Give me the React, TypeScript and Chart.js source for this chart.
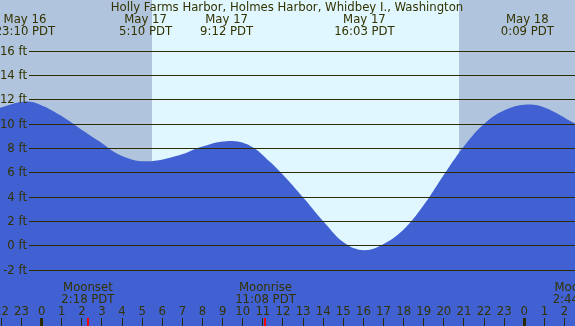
import React, { useEffect, useRef } from "react";
import { Chart, registerables } from "chart.js";

Chart.register(...registerables);

const TITLE = "Holly Farms Harbor, Holmes Harbor, Whidbey I., Washington";

// Tide curve (hours relative to midnight May 17, feet)
const tideHours = [-2.07, -0.83, -0.08, 0.91, 1.9, 2.9, 3.89, 5.17, 6.88, 7.87, 9.2, 10.36, 11.35, 12.1, 13.09, 14.09, 15.08, 16.05, 17.07, 18.06, 19.06, 20.05, 21.05, 22.04, 23.04, 24.15, 25.03, 26.52];
const tideFeet = [11.3, 11.8, 11.55, 10.7, 9.6, 8.5, 7.41, 6.89, 7.41, 8.04, 8.55, 8.18, 6.85, 5.6, 3.75, 1.8, 0.15, -0.41, 0.16, 1.39, 3.44, 5.91, 8.23, 10.02, 11.11, 11.56, 11.3, 10.0];

// Extreme labels
const extremeHours = [-0.83, 5.17, 9.2, 16.05, 24.15];
const extremeDates = ["May 16", "May 17", "May 17", "May 17", "May 18"];
const extremeTimes = ["23:10 PDT", "5:10 PDT", "9:12 PDT", "16:03 PDT", "0:09 PDT"];

// Moon events
const moonHours = [2.3, 11.13, 26.73];
const moonNames = ["Moonset", "Moonrise", "Moonset"];
const moonTimes = ["2:18 PDT", "11:08 PDT", "2:44 PDT"];

// Night periods (hours)
const nightStart = [-3, 20.75];
const nightEnd = [5.47, 28];

// Hour ticks
const tickHours = [-2, -1, 0, 1, 2, 3, 4, 5, 6, 7, 8, 9, 10, 11, 12, 13, 14, 15, 16, 17, 18, 19, 20, 21, 22, 23, 24, 25, 26];
const tickLabels = ["22", "23", "0", "1", "2", "3", "4", "5", "6", "7", "8", "9", "10", "11", "12", "13", "14", "15", "16", "17", "18", "19", "20", "21", "22", "23", "0", "1", "2"];

// Y gridlines
const gridFeet = [-2, 0, 2, 4, 6, 8, 10, 12, 14, 16];
const gridLabels = ["-2 ft", "0 ft", "2 ft", "4 ft", "6 ft", "8 ft", "10 ft", "12 ft", "14 ft", "16 ft"];

const X_MIN = -2.07;
const X_MAX = 26.52;
const Y_MIN = -6.64;
const Y_MAX = 20.15;

const TEXT = "#333300";
const FONT = "11.7px 'DejaVu Sans'";

const bgPlugin = {
  id: "bg",
  beforeDraw(chart: any) {
    const { ctx, chartArea, scales } = chart;
    const x = scales.x;
    ctx.save();
    ctx.fillStyle = "#e0f7ff";
    ctx.fillRect(chartArea.left, chartArea.top, chartArea.right - chartArea.left, chartArea.bottom - chartArea.top);
    ctx.fillStyle = "#b0c4de";
    for (let i = 0; i < nightStart.length; i++) {
      const a = Math.max(chartArea.left, x.getPixelForValue(nightStart[i]));
      const b = Math.min(chartArea.right, x.getPixelForValue(nightEnd[i]));
      ctx.fillRect(Math.round(a), chartArea.top, Math.round(b) - Math.round(a), chartArea.bottom - chartArea.top);
    }
    ctx.restore();
  },
};

const overlayPlugin = {
  id: "overlay",
  afterDatasetsDraw(chart: any) {
    const { ctx, chartArea, scales } = chart;
    const x = scales.x;
    const y = scales.y;
    ctx.save();
    ctx.strokeStyle = "#2b2b00";
    ctx.lineWidth = 1;
    ctx.font = FONT;
    ctx.fillStyle = TEXT;
    ctx.textAlign = "right";
    ctx.textBaseline = "middle";
    for (let i = 0; i < gridFeet.length; i++) {
      const py = Math.round(y.getPixelForValue(gridFeet[i])) + 0.5;
      ctx.beginPath();
      ctx.moveTo(29, py);
      ctx.lineTo(chartArea.right, py);
      ctx.stroke();
      ctx.fillText(gridLabels[i], 27, py);
    }
    ctx.textAlign = "center";
    ctx.fillText(TITLE, 287, 7.5);
    for (let i = 0; i < extremeHours.length; i++) {
      const px = x.getPixelForValue(extremeHours[i]);
      ctx.fillText(extremeDates[i], px, 20);
      ctx.fillText(extremeTimes[i], px, 32);
    }
    for (let i = 0; i < moonHours.length; i++) {
      const px = x.getPixelForValue(moonHours[i]);
      ctx.fillText(moonNames[i], px, 287.5);
      ctx.fillText(moonTimes[i], px, 299.5);
    }
    for (let i = 0; i < tickHours.length; i++) {
      const px = x.getPixelForValue(tickHours[i]);
      ctx.fillStyle = TEXT;
      ctx.fillText(tickLabels[i], px, 311.5);
      const w = tickLabels[i] === "0" ? 3 : 1;
      ctx.fillStyle = "#2b2b00";
      ctx.fillRect(Math.round(px - w / 2), 318, w, chartArea.bottom - 318);
    }
    ctx.fillStyle = "#ff0000";
    for (let i = 0; i < moonHours.length; i++) {
      const px = x.getPixelForValue(moonHours[i]);
      ctx.fillRect(Math.round(px - 1), 318, 2, chartArea.bottom - 318);
    }
    ctx.restore();
  },
};

export default function App() {
  const ref = useRef<HTMLCanvasElement | null>(null);
  useEffect(() => {
    document.body.style.margin = "0";
    const canvas = ref.current;
    if (!canvas) return;
    const chart = new Chart(canvas, {
      type: "line",
      data: {
        datasets: [
          {
            data: tideHours.map((h, i) => ({ x: h, y: tideFeet[i] })),
            fill: "start",
            backgroundColor: "#4161d3",
            borderColor: "#4161d3",
            borderWidth: 0,
            pointRadius: 0,
            tension: 0.4,
          },
        ],
      },
      options: {
        animation: false,
        responsive: false,
        maintainAspectRatio: false,
        devicePixelRatio: 1,
        layout: { padding: 0 },
        plugins: { legend: { display: false }, tooltip: { enabled: false } },
        scales: {
          x: { type: "linear", display: false, min: X_MIN, max: X_MAX },
          y: { type: "linear", display: false, min: Y_MIN, max: Y_MAX },
        },
      },
      plugins: [bgPlugin, overlayPlugin],
    } as any);
    return () => chart.destroy();
  }, []);
  return (
    <div style={{ width: 575, height: 326 }}>
      <canvas ref={ref} width={575} height={326} style={{ display: "block" }} />
    </div>
  );
}
